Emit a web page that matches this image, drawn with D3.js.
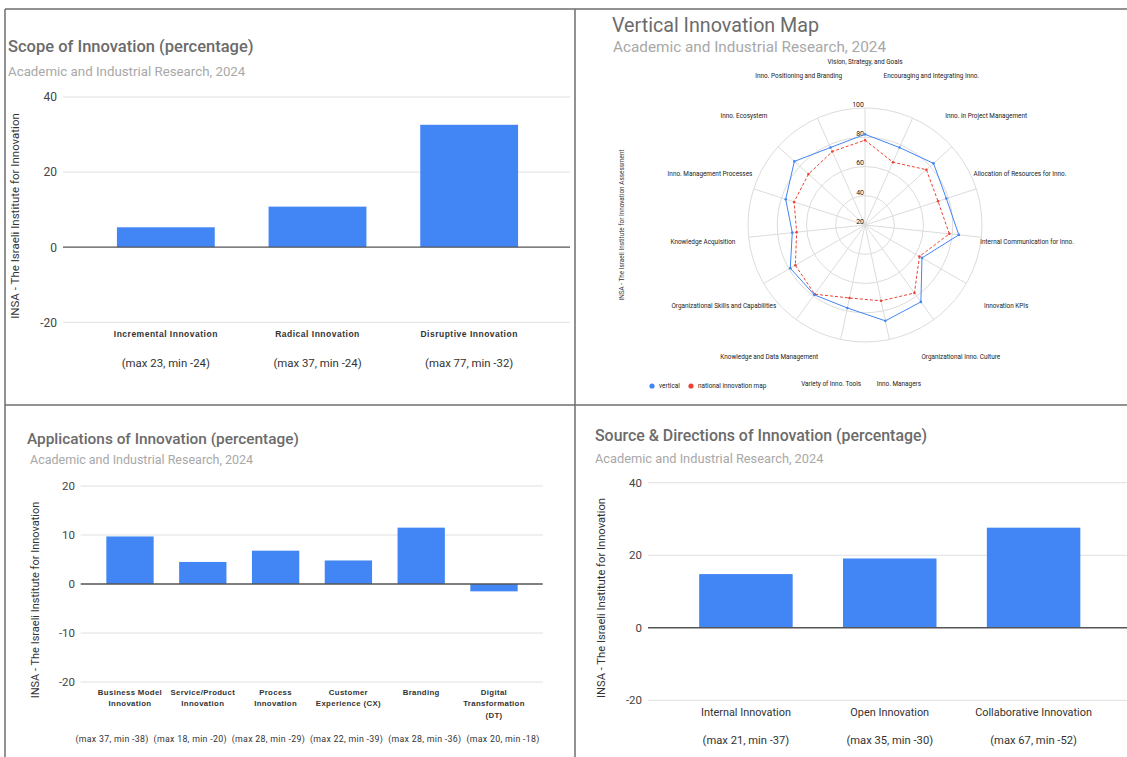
<!DOCTYPE html>
<html>
<head>
<meta charset="utf-8">
<script src="https://cdn.jsdelivr.net/npm/d3@7/dist/d3.min.js"></script>
<style>
  html, body { margin: 0; padding: 0; background: #fff; }
  svg { display: block; }
  .title { font-family: Roboto, "Liberation Sans", sans-serif; font-weight: 500; fill: #6b6b6b; }
  .subtitle { font-family: Roboto, "Liberation Sans", sans-serif; fill: #a8a8a8; }
  .tick { font-family: Roboto, "Liberation Sans", sans-serif; fill: #444; }
  .ytitle { font-family: Roboto, "Liberation Sans", sans-serif; fill: #333; }
  .cat { font-family: "Liberation Sans", Arial, sans-serif; font-weight: bold; fill: #333; }
  .range { font-family: Roboto, "Liberation Sans", sans-serif; fill: #333; }
  .rlabel { font-family: Roboto, "Liberation Sans", sans-serif; fill: #222; }
</style>
</head>
<body>
<svg id="chart" width="1127" height="757"></svg>
<script>
// ---- Scope of Innovation ----
const scopeCategories = ["Incremental Innovation", "Radical Innovation", "Disruptive Innovation"];
const scopeRanges = ["(max 23, min -24)", "(max 37, min -24)", "(max 77, min -32)"];
const scopeValues = [5.3, 10.8, 32.6];
const scopeTicks = [-20, 0, 20, 40];

// ---- Applications of Innovation ----
const appCategories = [
  ["Business Model", "Innovation"],
  ["Service/Product", "Innovation"],
  ["Process", "Innovation"],
  ["Customer", "Experience (CX)"],
  ["Branding"],
  ["Digital", "Transformation", "(DT)"]
];
const appRanges = ["(max 37, min -38)", "(max 18, min -20)", "(max 28, min -29)",
                   "(max 22, min -39)", "(max 28, min -36)", "(max 20, min -18)"];
const appValues = [9.7, 4.5, 6.8, 4.8, 11.5, -1.5];
const appTicks = [-20, -10, 0, 10, 20];

// ---- Source & Directions of Innovation ----
const srcCategories = ["Internal Innovation", "Open Innovation", "Collaborative Innovation"];
const srcRanges = ["(max 21, min -37)", "(max 35, min -30)", "(max 67, min -52)"];
const srcValues = [14.8, 19.1, 27.6];
const srcTicks = [-20, 0, 20, 40];

// ---- Vertical Innovation Map (radar) ----
const radarAxes = [
  "Vision, Strategy, and Goals",
  "Encouraging and Integrating Inno.",
  "Inno. in Project Management",
  "Allocation of Resources for Inno.",
  "Internal Communication for Inno.",
  "Innovation KPIs",
  "Organizational Inno. Culture",
  "Inno. Managers",
  "Variety of Inno. Tools",
  "Knowledge and Data Management",
  "Organizational Skills and Capabilities",
  "Knowledge Acquisition",
  "Inno. Management Processes",
  "Inno. Ecosystem",
  "Inno. Positioning and Branding"
];
const radarVertical = [82, 78, 83, 78.5, 84.5, 65, 85, 87, 78, 79, 79, 70, 77, 85, 78];
const radarNational = [78, 67, 76.5, 72.5, 78, 63, 77.5, 73, 71, 78.5, 75, 67, 71, 72, 75];
const radarRings = [20, 40, 60, 80, 100];
const radarSeries = ["vertical", "national innovation map"];

const BLUE = "#4285f4";
const RED = "#ea4335";
const subtitleText = "Academic and Industrial Research, 2024";
const yTitleText = "INSA - The Israeli Institute for Innovation";

const svg = d3.select("#chart");

// Panel frame and dividers
const frame = svg.append("g").attr("stroke", "#6e6e6e").attr("stroke-width", 1.5).attr("fill", "none");
frame.append("line").attr("x1", 5).attr("x2", 1127).attr("y1", 9).attr("y2", 9);
frame.append("line").attr("x1", 5).attr("x2", 5).attr("y1", 9).attr("y2", 757);
frame.append("line").attr("x1", 575).attr("x2", 575).attr("y1", 9).attr("y2", 757);
frame.append("line").attr("x1", 5).attr("x2", 1127).attr("y1", 405).attr("y2", 405);

// Generic column chart with headline, gridlines and two-part category labels
function columnPanel(o) {
  const g = svg.append("g");
  g.append("text").attr("class", "title").attr("x", o.titleX).attr("y", o.titleY)
    .style("font-size", o.titleSize + "px").text(o.title);
  g.append("text").attr("class", "subtitle").attr("x", o.subX).attr("y", o.subY)
    .style("font-size", o.subSize + "px").text(subtitleText);

  const y = d3.scaleLinear().domain(d3.extent(o.ticks)).range(o.yRange);
  const x = d3.scaleBand().domain(d3.range(o.values.length)).range(o.xRange);

  const yAxis = d3.axisLeft(y).tickValues(o.ticks).tickSize(0).tickPadding(0).tickFormat(d => String(d));
  const ax = g.append("g").attr("transform", `translate(${o.tickX},0)`).call(yAxis);
  ax.select(".domain").remove();
  ax.selectAll("text").attr("class", "tick").style("font-size", o.tickSize + "px").attr("fill", null);

  g.append("g").selectAll("line").data(o.ticks.filter(t => t !== 0)).join("line")
    .attr("x1", o.gridX[0]).attr("x2", o.gridX[1])
    .attr("y1", d => y(d)).attr("y2", d => y(d))
    .attr("stroke", "#e0e0e0").attr("stroke-width", 1);

  const bw = x.bandwidth() * o.barRatio;
  g.append("g").selectAll("rect").data(o.values).join("rect")
    .attr("x", (d, i) => x(i) + (x.bandwidth() - bw) / 2)
    .attr("width", bw)
    .attr("y", d => y(Math.max(0, d)))
    .attr("height", d => Math.abs(y(d) - y(0)))
    .attr("fill", BLUE);

  g.append("line").attr("x1", o.gridX[0]).attr("x2", o.gridX[1])
    .attr("y1", y(0)).attr("y2", y(0)).attr("stroke", "#555").attr("stroke-width", 1.3);

  g.append("text").attr("class", "ytitle")
    .attr("transform", `translate(${o.yTitleX},${o.yTitleY}) rotate(-90)`)
    .attr("text-anchor", "middle").style("font-size", o.yTitleSize + "px").text(yTitleText);

  // range captions may sit on their own spread when wider than a band
  const rx = o.rangeSpread
    ? d3.scalePoint().domain(d3.range(o.values.length)).range(o.rangeSpread)
    : (i => x(i) + x.bandwidth() / 2);

  const cats = g.append("g");
  o.categories.forEach((c, i) => {
    const lines = Array.isArray(c) ? c : [c];
    const cx = x(i) + x.bandwidth() / 2;
    const t = cats.append("text").attr("class", o.catClass).attr("text-anchor", "middle")
      .style("font-size", o.catSize + "px").style("letter-spacing", o.catSpacing + "px");
    lines.forEach((ln, k) => t.append("tspan").attr("x", cx).attr("y", o.catY + k * o.catLine).text(ln));
    cats.append("text").attr("class", "range").attr("text-anchor", "middle")
      .attr("x", rx(i)).attr("y", o.rangeY).style("font-size", o.rangeSize + "px")
      .style("letter-spacing", o.rangeSpacing + "px").text(o.ranges[i]);
  });
}

columnPanel({
  title: "Scope of Innovation (percentage)", titleX: 8, titleY: 52, titleSize: 16.5,
  subX: 8, subY: 76, subSize: 13.3,
  ticks: scopeTicks, yRange: [322.3, 97], values: scopeValues,
  xRange: [90, 545], barRatio: 0.645, gridX: [63, 570],
  tickX: 57, tickSize: 12,
  yTitleX: 19, yTitleY: 216, yTitleSize: 11.5,
  categories: scopeCategories, catClass: "cat", catSize: 8.5, catSpacing: 0.5, catY: 336.5, catLine: 11,
  ranges: scopeRanges, rangeY: 366.5, rangeSize: 11.4, rangeSpacing: 0
});

columnPanel({
  title: "Applications of Innovation (percentage)", titleX: 27, titleY: 443.5, titleSize: 15.4,
  subX: 30, subY: 463.5, subSize: 12.5,
  ticks: appTicks, yRange: [682, 486], values: appValues,
  xRange: [93.6, 530.4], barRatio: 0.65, gridX: [80.7, 542.7],
  tickX: 75, tickSize: 11.5,
  yTitleX: 39, yTitleY: 600, yTitleSize: 11,
  categories: appCategories, catClass: "cat", catSize: 7.8, catSpacing: 0.35, catY: 695, catLine: 11.3,
  ranges: appRanges, rangeY: 741.5, rangeSize: 8.8, rangeSpacing: 0.3, rangeSpread: [112, 503]
});

columnPanel({
  title: "Source & Directions of Innovation (percentage)", titleX: 595, titleY: 441, titleSize: 15.9,
  subX: 595, subY: 462.5, subSize: 12.8,
  ticks: srcTicks, yRange: [700.3, 482.7], values: srcValues,
  xRange: [674, 1105.5], barRatio: 0.65, gridX: [648, 1127],
  tickX: 642, tickSize: 11.5,
  yTitleX: 605, yTitleY: 598, yTitleSize: 11.2,
  categories: srcCategories, catClass: "range", catSize: 10.9, catSpacing: 0, catY: 715.5, catLine: 11,
  ranges: srcRanges, rangeY: 744, rangeSize: 11.2, rangeSpacing: 0
});

// ---- Radar panel ----
(function radarPanel() {
  const g = svg.append("g");
  g.append("text").attr("class", "title").attr("x", 612).attr("y", 32)
    .style("font-size", "19.7px").style("font-weight", 400).attr("fill", "#707070").text("Vertical Innovation Map");
  g.append("text").attr("class", "subtitle").attr("x", 613).attr("y", 52)
    .style("font-size", "15.3px").text(subtitleText);

  const cx = 865, cy = 225, R = 117, labelR = 163;
  const r = d3.scaleLinear().domain([20, 100]).range([0, R]);
  const step = 2 * Math.PI / radarAxes.length;
  const ang = i => i * step;

  const plot = g.append("g").attr("transform", `translate(${cx},${cy})`);

  plot.append("g").selectAll("circle").data(radarRings.slice(1)).join("circle")
    .attr("r", d => r(d)).attr("fill", "none").attr("stroke", "#dcdcdc").attr("stroke-width", 1);

  plot.append("g").selectAll("line").data(radarAxes).join("line")
    .attr("x1", 0).attr("y1", 0)
    .attr("x2", (d, i) => R * Math.sin(ang(i)))
    .attr("y2", (d, i) => -R * Math.cos(ang(i)))
    .attr("stroke", "#dcdcdc").attr("stroke-width", 1);

  plot.append("g").selectAll("text").data(radarRings).join("text")
    .attr("class", "rlabel").attr("x", -1).attr("y", d => -r(d) - 3)
    .attr("text-anchor", "end").attr("dominant-baseline", "middle")
    .style("font-size", "7px").attr("fill", "#444").text(d => d);

  const line = d3.lineRadial().curve(d3.curveLinearClosed)
    .angle((d, i) => ang(i)).radius(d => r(d));

  plot.append("path").datum(radarNational).attr("d", line)
    .attr("fill", "none").attr("stroke", RED).attr("stroke-width", 1).attr("stroke-dasharray", "3,2");
  plot.append("path").datum(radarVertical).attr("d", line)
    .attr("fill", "none").attr("stroke", BLUE).attr("stroke-width", 1);

  [[radarNational, RED], [radarVertical, BLUE]].forEach(([vals, col]) => {
    plot.append("g").selectAll("circle").data(vals).join("circle")
      .attr("cx", (d, i) => r(d) * Math.sin(ang(i)))
      .attr("cy", (d, i) => -r(d) * Math.cos(ang(i)))
      .attr("r", 1.3).attr("fill", col);
  });

  plot.append("g").selectAll("text").data(radarAxes).join("text")
    .attr("class", "rlabel")
    .attr("x", (d, i) => labelR * Math.sin(ang(i)))
    .attr("y", (d, i) => -labelR * Math.cos(ang(i)))
    .attr("text-anchor", "middle").attr("dominant-baseline", "middle")
    .style("font-size", "6.4px").text(d => d);

  g.append("text").attr("class", "ytitle")
    .attr("transform", `translate(624,225) rotate(-90)`)
    .attr("text-anchor", "middle").style("font-size", "6.4px").attr("fill", "#444")
    .text("INSA - The Israeli Institute for Innovation Assessment");

  // legend
  const legend = g.append("g").attr("transform", "translate(652,386)");
  const lx = [0, 39];
  radarSeries.forEach((s, i) => {
    legend.append("circle").attr("cx", lx[i]).attr("cy", 0).attr("r", 2.6).attr("fill", i === 0 ? BLUE : RED);
    legend.append("text").attr("x", lx[i] + 7).attr("y", 0).attr("dominant-baseline", "middle")
      .attr("class", "rlabel").attr("fill", "#666").style("font-size", "6.4px").text(s);
  });
})();
</script>
</body>
</html>
